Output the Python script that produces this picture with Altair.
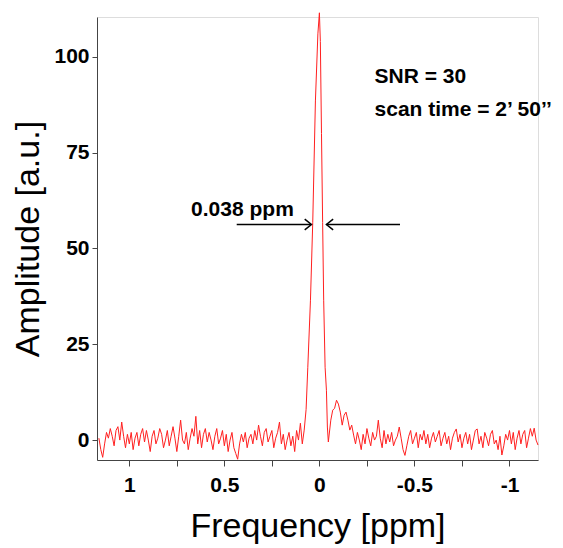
import altair as alt
import pandas as pd

# ---- spectrum data ----
freq_left = [round(1.16 - 0.01 * i, 3) for i in range(109)]  # 1.16 ... 0.08 ppm
amp_left = [
    0.5, -2.5, -4.5, -1, 2, 0.5, 3, 1, -1.5, 2.5,
    3.5, 0, 4.7, 1, -2, 1.5, -1, 2, -2.5, 0.5,
    2, -1.5, 1.5, 3, -0.5, 2.5, 0, -3, 1, 2.5,
    -1, 0.5, 3, 1.5, -2, 0, 2.5, -1.5, 1, 3.5,
    0.5, -3, 1, 5.2, 0, -1, 2, -2.5, 0.5, 3,
    1, 6.2, -1, 2.5, -2, 1.5, 3, -0.5, 2, 0,
    -2.5, 1, 3, -1, 0.5, 2.5, -1.5, 1.5, -3, 0,
    2, -2, -3.5, -5, -1, 1.5, -0.5, 2, -2, 0.5,
    1.5, -1, 2.5, 0, 3.9, 1, -1.5, 2, 3, -0.5,
    1, 2.5, -2, 0.5, 2, 4.7, -1, 1.5, -2.5, 0,
    2, -1.5, 1, -3, 2.5, 0, 4.4, -1, 2.6,
]
peak_freq = [0.07, 0.061, 0.047, 0.035, 0.021, 0.008, 0.0, -0.005, -0.011,
             -0.017, -0.0225, -0.030, -0.037, -0.042, -0.047]
peak_amp = [8, 19, 36.5, 56.8, 88.5, 106, 111.5, 104, 80,
            56.8, 36.5, 19, 13, 3.4, -0.5]
freq_right = [round(-0.06 - 0.01 * i, 3) for i in range(110)]  # -0.06 ... -1.15 ppm
amp_right = [
    5.2, 7.8, 8.3, 10.4, 9.4, 7.3, 3.9, 6.5, 7.3, 5.2,
    2.6, 3.9, 1.3, -1, 2, 0, -2.5, 1.5, -1, 3,
    0.5, -1.5, 2, 0, 1, 5.2, 0.5, -2, 2.5, -1,
    1.5, -0.5, 2, -1.5, 0, 1, 3.4, 0.5, -2.5, -4,
    -1.5, 1, 2.5, -1, 0.5, 2, -2, 1.5, 0, 2.5,
    -1, 1.5, -2, 0.5, 2, -0.5, 1, 2.5, -1.5, 0.5,
    2, -1, 1, -2.5, 0.5, 2, 2.9, -0.5, 1.5, -2,
    0.5, 2, -1, 1.5, -2.5, 0, 2.5, 2.9, -1, 1,
    -2, 2, 0.5, -1.5, 1.5, 2.5, -1, 0, -2.5, 1,
    -3.9, -1.5, 1.5, 0, 2.5, -1, 2, -2.5, 0.5, 2.5,
    -1, 1.5, 2.5, -2, 0.5, 3, 1, 3.1, 0, -1.3,
]

# ---- annotations ----
note_text = ["SNR = 30", "scan time = 2\u2019 50\u2019\u2019", "0.038 ppm"]
note_freq = [-0.29, -0.29, 0.675]
note_amp = [93.2, 84.6, 58.6]

arrow_start = [0.435, -0.424]
arrow_end = [0.042, -0.037]
arrow_amp = [56.25, 56.25]

x_ticks = [1, 0.75, 0.5, 0.25, 0, -0.25, -0.5, -0.75, -1]
y_ticks = [0, 25, 50, 75, 100]

spec = pd.DataFrame({
    "freq": freq_left + peak_freq + freq_right,
    "amp": amp_left + peak_amp + amp_right,
})
notes = pd.DataFrame({"t": note_text, "f": note_freq, "a": note_amp})
arrows = pd.DataFrame({"f1": arrow_start, "f2": arrow_end, "a": arrow_amp})
heads = pd.DataFrame({"f": arrow_end, "a": arrow_amp, "dir": ["r", "l"]})

FONT = "Liberation Sans"
xscale = alt.Scale(domain=[-1.15, 1.17], reverse=True, nice=False, zero=False)
yscale = alt.Scale(domain=[-5.2, 110.4], nice=False, zero=False)

line = alt.Chart(spec).mark_line(color="#ff2020", strokeWidth=1, clip=False).encode(
    x=alt.X("freq:Q", scale=xscale,
            axis=alt.Axis(values=x_ticks, title="Frequency [ppm]",
                          labelExpr="abs(datum.value % 0.5) < 1e-9 ? toString(datum.value) : ''",
                          labelOverlap=False, labelFont=FONT, labelFontWeight="bold",
                          labelFontSize=21, labelColor="black", labelPadding=8,
                          tickSize=6, tickColor="#444", domainColor="#444",
                          titleFont=FONT, titleFontWeight="normal", titleFontSize=34,
                          titleColor="black", titlePadding=14, grid=False)),
    y=alt.Y("amp:Q", scale=yscale,
            axis=alt.Axis(values=y_ticks, title="Amplitude [a.u.]",
                          labelFont=FONT, labelFontWeight="bold", labelFontSize=21,
                          labelColor="black", labelPadding=3, tickSize=5,
                          tickColor="#444", domainColor="#444",
                          titleFont=FONT, titleFontWeight="normal", titleFontSize=34,
                          titleColor="black", titlePadding=8, grid=False)),
    order="freq:Q",
)

text = alt.Chart(notes).mark_text(font=FONT, fontWeight="bold", fontSize=21,
                                  align="left", baseline="alphabetic",
                                  color="black").encode(
    x=alt.X("f:Q", scale=xscale), y=alt.Y("a:Q", scale=yscale), text="t:N")

shafts = alt.Chart(arrows).mark_rule(color="black", strokeWidth=1.5).encode(
    x=alt.X("f1:Q", scale=xscale), x2="f2:Q", y=alt.Y("a:Q", scale=yscale))

head_r = alt.Chart(heads[heads.dir == "r"]).mark_point(
    shape="M-1,-0.8L0,0L-1,0.8", filled=False, size=180, color="black",
    strokeWidth=1.5, opacity=1).encode(
    x=alt.X("f:Q", scale=xscale), y=alt.Y("a:Q", scale=yscale))
head_l = alt.Chart(heads[heads.dir == "l"]).mark_point(
    shape="M1,-0.8L0,0L1,0.8", filled=False, size=180, color="black",
    strokeWidth=1.5, opacity=1).encode(
    x=alt.X("f:Q", scale=xscale), y=alt.Y("a:Q", scale=yscale))

chart = alt.layer(line, text, shafts, head_r, head_l).properties(
    width=441, height=443,
    autosize=alt.AutoSizeParams(type="none"),
    padding={"left": 89, "top": 9, "right": 17, "bottom": 88},
).configure_view(stroke=None).configure(background="white")

chart.save("out.html", embed_options={"renderer": "svg", "actions": False})
